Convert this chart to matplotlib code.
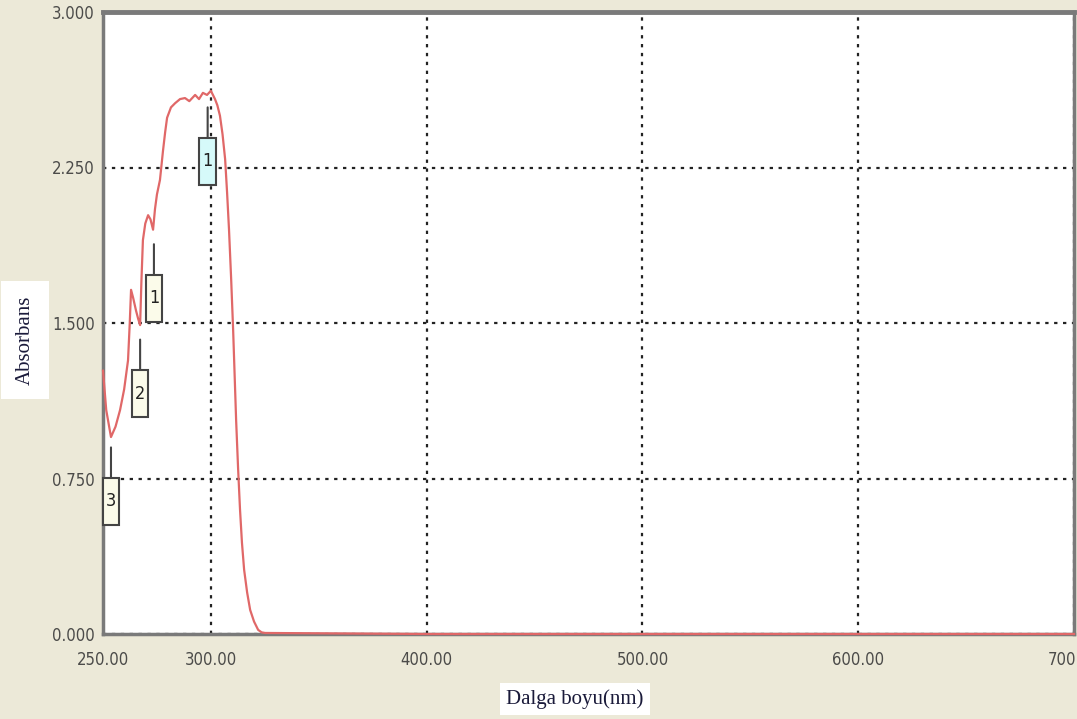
import matplotlib.pyplot as plt
from matplotlib.offsetbox import AnnotationBbox, DrawingArea
from matplotlib.patches import Rectangle
from matplotlib.text import Text

# spectrum
wavelength = [250.0, 251.5, 253.7, 255.8, 257.9, 259.8, 261.6, 262.4, 263.0, 264.0,
              265.3, 266.3, 267.2, 267.8, 268.5, 269.6, 270.9, 272.0, 273.2, 274.1,
              275.0, 276.4, 277.8, 278.8, 279.7, 281.5, 283.4, 285.7, 288.0, 290.0,
              292.7, 294.5, 296.3, 298.2, 300.0, 301.9, 303.0, 304.2, 305.4, 306.6,
              307.5, 308.4, 309.4, 310.3, 311.0, 311.7, 312.6, 313.5, 314.4, 315.4,
              316.8, 318.2, 320.0, 321.9, 323.5, 325.1, 400.0, 500.0, 600.0, 700.0]
absorbance = [1.27, 1.08, 0.95, 1.00, 1.08, 1.18, 1.32, 1.50, 1.66, 1.62,
              1.56, 1.52, 1.49, 1.70, 1.90, 1.98, 2.02, 2.00, 1.95, 2.05,
              2.12, 2.19, 2.33, 2.42, 2.49, 2.54, 2.56, 2.58, 2.585, 2.57,
              2.60, 2.58, 2.61, 2.60, 2.62, 2.58, 2.55, 2.50, 2.41, 2.29,
              2.13, 1.95, 1.71, 1.47, 1.25, 1.03, 0.80, 0.60, 0.44, 0.31,
              0.20, 0.116, 0.06, 0.02, 0.008, 0.005, 0.0, 0.0, 0.0, 0.0]

# peak markers
peak_nm = [298.5, 273.6, 267.2, 253.7]
peak_abs = [2.54, 1.88, 1.42, 0.90]
peak_labels = ["1", "1", "2", "3"]
peak_colors = ["#d6fafa", "#fbfbea", "#fbfbea", "#fbfbea"]

x_ticks = [250, 300, 400, 500, 600, 700]
y_ticks = [0.0, 0.75, 1.5, 2.25, 3.0]

bg = "#ece9d8"
fig = plt.figure(figsize=(10.77, 7.19), dpi=100, facecolor=bg)
ax = fig.add_axes([103 / 1077, 1 - 634 / 719, 971 / 1077, 622 / 719])
ax.set_facecolor("white")

ax.plot(wavelength, absorbance, color="#e06868", lw=1.6, zorder=5, clip_on=False)

ax.set_xlim(250, 700)
ax.set_ylim(0, 3.0)
ax.set_xticks(x_ticks)
ax.set_xticklabels([f"{v:.2f}" for v in x_ticks])
ax.set_yticks(y_ticks)
ax.set_yticklabels([f"{v:.3f}" for v in y_ticks])
ax.tick_params(length=0, labelsize=12, labelcolor="#3a3a3a")
ax.tick_params(axis="x", pad=12)
ax.tick_params(axis="y", pad=6)
for lab in ax.get_xticklabels() + ax.get_yticklabels():
    lab.set_family("DejaVu Sans")
    lab.set_stretch("condensed")
    lab.set_alpha(0.9)
ax.grid(True, color="#222222", linestyle=(0, (1.5, 2.5)), lw=1.6)

for side in ["left", "bottom", "top", "right"]:
    ax.spines[side].set_color("#7a7a7a")
    ax.spines[side].set_linewidth(2.5)
ax.spines["top"].set_linewidth(3.5)

for nm, a, lab, col in zip(peak_nm, peak_abs, peak_labels, peak_colors):
    da = DrawingArea(12, 34, 0, 0)
    da.add_artist(Rectangle((0, 0), 12, 34, facecolor=col, edgecolor="#444444", lw=1.5))
    da.add_artist(Text(6, 17, lab, ha="center", va="center", fontsize=13,
                       color="#222222", family="DejaVu Sans", fontstretch="condensed"))
    ab = AnnotationBbox(da, (nm, a), xybox=(0, -54), boxcoords="offset pixels",
                        frameon=False, pad=0, box_alignment=(0.5, 0.5),
                        arrowprops=dict(arrowstyle="-", color="#444444", lw=1.5,
                                        shrinkA=0, shrinkB=0))
    ab.set_zorder(6)
    ax.add_artist(ab)

fig.text(25 / 1077, 1 - 340 / 719, "Absorbans", rotation=90, ha="center", va="center",
         family="Liberation Serif", fontsize=15, color="#1a1a3a",
         bbox=dict(facecolor="white", edgecolor="none", boxstyle="square,pad=0.7"))
fig.text(575 / 1077, 1 - 699 / 719, "Dalga boyu(nm)", ha="center", va="center",
         family="Liberation Serif", fontsize=15, color="#1a1a3a",
         bbox=dict(facecolor="white", edgecolor="none", boxstyle="square,pad=0.3"))

fig.savefig("out.png", dpi=100, facecolor=bg)
